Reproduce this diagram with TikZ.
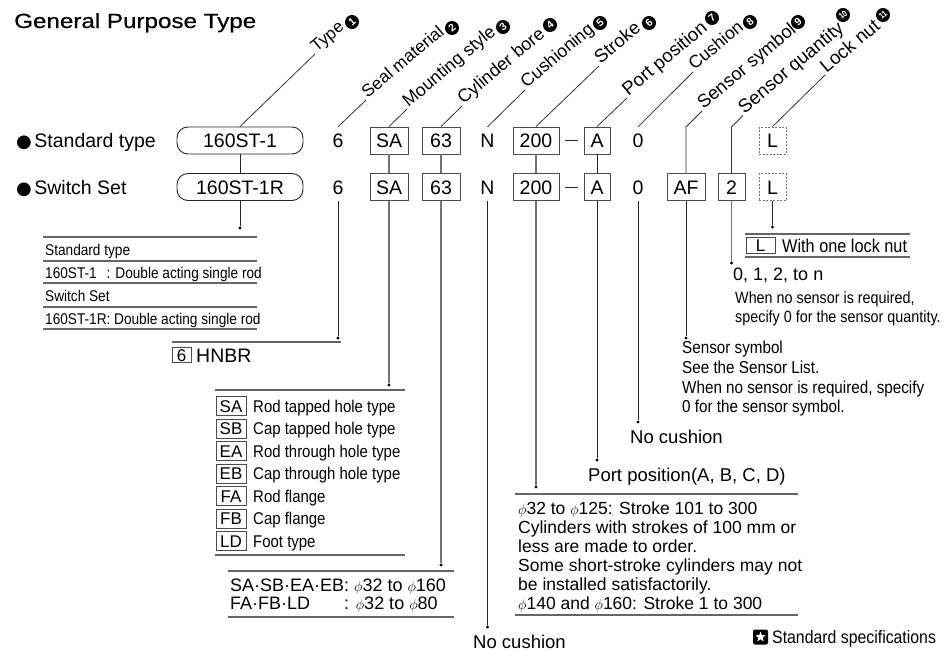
\documentclass[tikz,border=0pt]{standalone}
\usepackage{fontspec}
\setmainfont{Liberation Sans}
\newfontfamily\narrowfont{Liberation Sans}[FakeStretch=0.88]
\newfontfamily\titlefont{Liberation Sans}[FakeStretch=1.18,FakeBold=0.5]
\newfontfamily\dejavu{DejaVu Sans}
\usetikzlibrary{calc,shapes.geometric}
\newcommand\fs[1]{\fontsize{#1}{#1}\selectfont}
\newcommand\dia{{\fontsize{14}{14}\selectfont$\phi$}}
% name, start, text, size, circle style, cx, cy, number
\newcommand\rlab[8]{%
  \node[rlabel, font=\fs{#4}] (#1) at (#2) {#3};
  \node[#5] (#1n) at (#6,#7) {#8};}
\tikzset{
  lead/.style={draw=black!80, line width=0.8pt},
  conn/.style={draw=black!85, line width=0.9pt},
  gconn/.style={draw=black!55, line width=1.3pt},
  tline/.style={draw=black!60, line width=1.2pt},
  rowtxt/.style={inner sep=0pt, font=\fs{19.5}, text height=14pt, text depth=0pt, minimum height=27pt},
  codebox/.style={rowtxt, draw=black!70, line width=0.9pt},
  pill/.style={codebox, draw=black!85, rounded corners=11pt, minimum width=126pt},
  dashbox/.style={rowtxt, draw=black!55, dash pattern=on 2pt off 1.5pt, line width=0.8pt, minimum width=27pt},
  enddot/.style={circle, fill=black, inner sep=0pt, minimum size=3.4pt},
  rlabel/.style={anchor=base west, rotate=40, inner xsep=2pt, inner ysep=0pt},
  cnumst/.style={circle, fill=black, text=white, inner sep=0pt, minimum size=14pt, rotate=40, font=\fs{10.5}\bfseries},
  cnumsm/.style={cnumst, font=\narrowfont\fs{8.5}\bfseries},
  tabtxt/.style={anchor=west, inner sep=0pt, font=\narrowfont\fs{15.5}, text height=11pt, text depth=0pt},
  desc/.style={anchor=west, inner sep=0pt, font=\narrowfont\fs{17}, text height=12pt, text depth=0pt},
  sdesc/.style={anchor=west, inner sep=0pt, font=\narrowfont\fs{17.3}, text height=12.3pt, text depth=0pt},
  reg/.style={anchor=west, inner sep=0pt, font=\fs{18}, text height=13pt, text depth=0pt},
  smallcode/.style={draw=black!70, line width=0.8pt, inner sep=0pt, minimum width=30pt, minimum height=19pt, font=\fs{17}, text height=12.2pt, text depth=0pt},
}
\begin{document}
\begin{tikzpicture}[x=1pt, y=-1pt]
\fill[white] (0,0) rectangle (944,651);
\useasboundingbox (0,0) rectangle (944,651);

% title
\node[anchor=base west, inner sep=0pt, font=\titlefont\fs{20.5}] (title) at (14,28) {General Purpose Type};

% row labels
\node[anchor=west, inner sep=0pt, font=\fs{19.5}, text height=14pt, text depth=0pt] (r1) at (16,140.5) {{\dejavu\fs{18}●}\hspace{2.5pt}Standard type};
\node[anchor=west, inner sep=0pt, font=\fs{19.5}, text height=14pt, text depth=0pt] (r2) at (16,187) {{\dejavu\fs{18}●}\hspace{2.5pt}Switch Set};

% row 1
\node[pill] (t1) at (240,140.5) {160ST-1};
\node[rowtxt] (s1) at (338,140.5) {6};
\node[codebox, minimum width=38pt] (m1) at (389,140.5) {SA};
\node[codebox, minimum width=38pt] (b1) at (441,140.5) {63};
\node[rowtxt] (c1) at (487.5,140.5) {N};
\node[codebox, minimum width=46pt] (k1) at (536,140.5) {200};
\node[codebox, minimum width=26pt] (p1) at (597,140.5) {A};
\node[rowtxt] (u1) at (638,140.5) {0};
\node[dashbox] (l1) at (772.5,140.5) {L};
% row 2
\node[pill] (t2) at (240,187) {160ST-1R};
\node[rowtxt] (s2) at (338,187) {6};
\node[codebox, minimum width=38pt] (m2) at (389,187) {SA};
\node[codebox, minimum width=38pt] (b2) at (441,187) {63};
\node[rowtxt] (c2) at (487.5,187) {N};
\node[codebox, minimum width=46pt] (k2) at (536,187) {200};
\node[codebox, minimum width=26pt] (p2) at (597,187) {A};
\node[rowtxt] (u2) at (638,187) {0};
\node[codebox, minimum width=38pt] (f2) at (686,187) {AF};
\node[codebox, minimum width=27pt] (q2) at (731.5,187) {2};
\node[dashbox] (l2) at (772.5,187) {L};

% dashes
\draw[conn] ([xshift=6pt]k1.east) -- ([xshift=-6pt]p1.west);
\draw[conn] ([xshift=6pt]k2.east) -- ([xshift=-6pt]p2.west);

% between rows
\draw[conn] (t1.south) -- (t2.north);
\draw[gconn] (m1.south) -- (m2.north);
\draw[gconn] (b1.south) -- (b2.north);
\draw[gconn] (k1.south) -- (k2.north);
\draw[conn] (p1.south) -- (p2.north);

% leader ends
\coordinate (eT) at (315,54);
\coordinate (eS) at (366,100);
\coordinate (eM) at (407,109);
\coordinate (eB) at (462,106);
\coordinate (eC) at (525,90);
\coordinate (eK) at (599,66);
\coordinate (eP) at (627,98);
\coordinate (eU) at (693,72);
\coordinate (bF) at (686,127);
\coordinate (eF) at (702,111);
\coordinate (bQ) at (731.5,127);
\coordinate (eQ) at (743,115.5);
\coordinate (eL) at (825,75);

\draw[lead] (t1.north) -- (eT);
\draw[lead] (s1.north) -- (eS);
\draw[lead] (m1.north) -- (eM);
\draw[lead] (b1.north) -- (eB);
\draw[lead] (c1.north) -- (eC);
\draw[lead] (k1.north) -- (eK);
\draw[lead] (p1.north) -- (eP);
\draw[lead] (u1.north) -- (eU);
\draw[lead] (f2.north) -- (bF) -- (eF);
\draw[lead] (q2.north) -- (bQ) -- (eQ);
\draw[lead] (l1.north) -- (eL);

\rlab{lT}{eT}{Type}{17}{cnumst}{352}{22}{1}
\rlab{lS}{eS}{Seal material}{17.3}{cnumst}{452}{28}{2}
\rlab{lM}{eM}{Mounting style}{17.8}{cnumst}{503}{27}{3}
\rlab{lB}{eB}{Cylinder bore}{18}{cnumst}{550}{25}{4}
\rlab{lC}{eC}{Cushioning}{17.8}{cnumst}{600}{23}{5}
\rlab{lK}{eK}{Stroke}{18.5}{cnumst}{649}{23}{6}
\rlab{lP}{eP}{Port position}{18.7}{cnumst}{712}{18}{7}
\rlab{lU}{eU}{Cushion}{17.7}{cnumst}{750}{22}{8}
\rlab{lF}{eF}{Sensor symbol}{18.4}{cnumst}{798}{22}{9}
\rlab{lQ}{eQ}{Sensor quantity}{18.8}{cnumsm}{843}{15}{10}
\rlab{lL}{eL}{Lock nut}{18.8}{cnumsm}{883}{15}{11}

% ---- type table
\node[enddot] (dT) at (240,228) {};
\draw[conn] (t2.south) -- (dT);
\foreach \yy in {237,261,283,307,329} \draw[tline] (43,\yy) -- (257,\yy);
\node[tabtxt] (tt1) at (45,250) {Standard type};
\node[tabtxt] (tt2) at (45,272.5) {\rlap{160ST-1}\phantom{160ST-1R}: Double acting single rod};
\node[tabtxt] (tt3) at (45,295.5) {Switch Set};
\node[tabtxt] (tt4) at (45,318.5) {160ST-1R: Double acting single rod};

% ---- seal
\node[enddot] (dS) at (338,338) {};
\draw[conn] (s2.south) -- (dS);
\draw[tline] (172,342) -- (341,342);
\node[smallcode, minimum width=19pt, minimum height=15pt] (hb) at (181.5,355) {6};
\node[anchor=west, inner sep=0pt, font=\fs{19.5}, text height=14pt, text depth=0pt] (hn) at (196,355) {HNBR};

% ---- mounting
\node[enddot] (dM) at (389,385) {};
\draw[gconn] (m2.south) -- (dM);
\draw[tline] (215,390) -- (405,390);
\draw[tline] (215,555) -- (405,555);
\foreach \yy/\cc/\tt [count=\i] in {406/SA/Rod tapped hole type, 428.5/SB/Cap tapped hole type, 451/EA/Rod through hole type, 473.5/EB/Cap through hole type, 496/FA/Rod flange, 518.5/FB/Cap flange, 541/LD/Foot type}{
  \node[smallcode] (mc\i) at (231,\yy) {\cc};
  \node[desc] (md\i) at (253,\yy) {\tt};
}

% ---- bore
\node[enddot] (dB) at (441,565) {};
\draw[gconn] (b2.south) -- (dB);
\draw[tline] (228,571) -- (454,571);
\draw[tline] (228,617) -- (454,617);
\node[reg] (bo1) at (230,585) {SA·SB·EA·EB: \dia32 to \dia160};
\node[reg] (bo2) at (230,603) {\rlap{FA·FB·LD}\phantom{SA·SB·EA·EB}: \dia32 to \dia80};

% ---- cushioning N
\node[enddot] (dN) at (487.5,627) {};
\draw[conn] (c2.south) -- (dN);
\node[reg, font=\fs{18.5}] (nc1) at (473,642) {No cushion};

% ---- stroke
\node[enddot] (dK) at (536,487) {};
\draw[gconn] (k2.south) -- (dK);
\draw[tline] (515,494) -- (798,494);
\draw[tline] (515,615) -- (798,615);
\node[reg, font=\fs{17.5}] (st1) at (518,508) {\dia32 to \dia125: Stroke 101 to 300};
\node[reg, font=\fs{17.5}] (st2) at (518,527) {Cylinders with strokes of 100 mm or};
\node[reg, font=\fs{17.5}] (st3) at (518,546) {less are made to order.};
\node[reg, font=\fs{17.5}] (st4) at (518,565) {Some short-stroke cylinders may not};
\node[reg, font=\fs{17.5}] (st5) at (518,584) {be installed satisfactorily.};
\node[reg, font=\fs{17.5}] (st6) at (518,603) {\dia140 and \dia160: Stroke 1 to 300};

% ---- port
\node[enddot] (dP) at (597,460) {};
\draw[conn] (p2.south) -- (dP);
\node[reg, font=\fs{18.5}] (pp) at (588,475) {Port position(A, B, C, D)};

% ---- cushion 0
\node[enddot] (dU) at (638,422) {};
\draw[conn] (u2.south) -- (dU);
\node[reg, font=\fs{18.5}] (nc2) at (630,437) {No cushion};

% ---- sensor symbol
\node[enddot] (dF) at (686,338) {};
\draw[conn] (f2.south) -- (dF);
\node[sdesc] (ss1) at (682,347) {Sensor symbol};
\node[sdesc] (ss2) at (682,367) {See the Sensor List.};
\node[sdesc] (ss3) at (682,387) {When no sensor is required, specify};
\node[sdesc] (ss4) at (682,406) {0 for the sensor symbol.};

% ---- sensor quantity
\node[enddot] (dQ) at (731.5,263) {};
\draw[gconn] (q2.south) -- (dQ);
\node[reg] (sq1) at (733,274) {0, 1, 2, to n};
\node[sdesc, font=\narrowfont\fs{16.3}] (sq2) at (735,297) {When no sensor is required,};
\node[sdesc, font=\narrowfont\fs{16.3}] (sq3) at (735,316) {specify 0 for the sensor quantity.};

% ---- lock nut
\node[enddot] (dL) at (772.5,227) {};
\draw[conn] (l2.south) -- (dL);
\draw[tline] (745,234) -- (910,234);
\draw[tline] (745,257) -- (910,257);
\node[smallcode, minimum width=29pt, minimum height=16pt] (lb) at (760.5,245.5) {L};
\node[desc, font=\narrowfont\fs{18.5}] (ln) at (782,246) {With one lock nut};

% ---- standard spec
\node[fill=black, rounded corners=2pt, minimum size=15pt, inner sep=0pt] (sb) at (760.5,637) {};
\node[star, star points=5, star point ratio=2.4, fill=white, inner sep=0pt, minimum size=11pt] (sstar) at (sb.center) {};
\node[desc, font=\narrowfont\fs{18}] (spec) at (772,637) {Standard specifications};
\end{tikzpicture}
\end{document}
